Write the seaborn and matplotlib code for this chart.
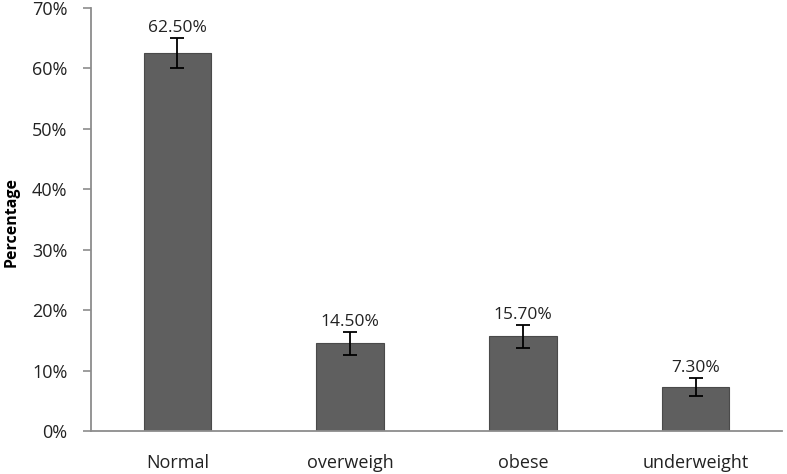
import matplotlib
matplotlib.use("Agg")
import matplotlib.pyplot as plt
import seaborn as sns
import pandas as pd
from matplotlib.ticker import FuncFormatter

categories = ["Normal", "overweigh", "obese", "underweight"]
values = [62.5, 14.5, 15.7, 7.3]
errors = [2.5, 1.9, 1.9, 1.5]
labels = ["62.50%", "14.50%", "15.70%", "7.30%"]

sns.set_style("white")
plt.rcParams['font.family'] = ['Open Sans', 'DejaVu Sans']

df = pd.DataFrame({"cat": categories, "val": values})
fig = plt.figure(figsize=(7.87, 4.74), dpi=100)
ax = fig.add_axes([91/787, 1 - 431/474, 691/787, 423/474])
sns.barplot(data=df, x="cat", y="val", color="#5f5f5f", width=0.39,
            edgecolor="#4a4a4a", linewidth=0.8, saturation=1, ax=ax, errorbar=None)
ax.errorbar(range(len(values)), values, yerr=errors, fmt="none", ecolor="black",
            elinewidth=1.3, capsize=5, capthick=1.3)
for i, (v, e, l) in enumerate(zip(values, errors, labels)):
    ax.text(i, v + e + 0.3, l, ha="center", va="bottom", fontsize=12.5, color="#222222")

ax.set_ylim(0, 70)
ax.set_xlim(-0.5, 3.5)
ax.set_yticks(range(0, 71, 10))
ax.yaxis.set_major_formatter(FuncFormatter(lambda v, p: f"{int(v)}%"))
ax.set_xlabel("")
ax.set_ylabel("")
fig.text(12/787, 1 - 222/474, "Percentage", rotation=90, ha="center", va="center",
         fontsize=11.5, fontweight="bold", color="black")
for s in ["top", "right"]:
    ax.spines[s].set_visible(False)
for s in ["left", "bottom"]:
    ax.spines[s].set_color("#8c8c8c")
    ax.spines[s].set_linewidth(1.3)
ax.tick_params(axis="y", which="major", left=True, length=6, width=1.2, color="#8c8c8c",
               labelsize=13, labelcolor="#222222", pad=11)
ax.tick_params(axis="x", bottom=False, labelsize=13, labelcolor="#222222", pad=13)
fig.savefig("out.png", dpi=100)
